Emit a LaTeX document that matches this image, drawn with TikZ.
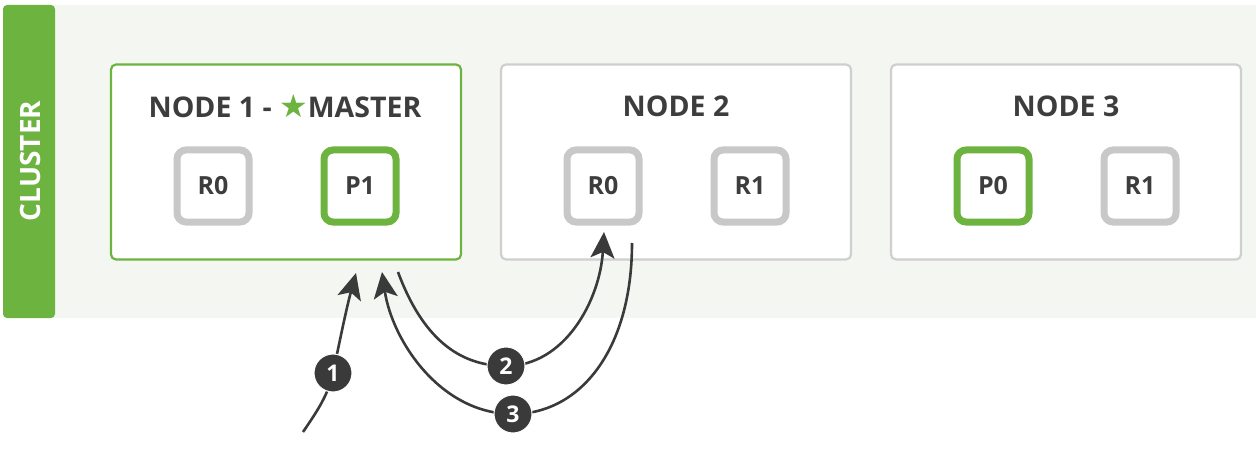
\documentclass[tikz,border=0pt]{standalone}
\usepackage{fontspec}
\setmainfont{Open Sans}
\newfontfamily\symfont{DejaVu Sans}
\usetikzlibrary{arrows.meta}
\definecolor{esgreen}{HTML}{6DB33F}
\definecolor{bggray}{HTML}{F4F6F2}
\definecolor{boxgray}{HTML}{CFCFCF}
\definecolor{shardgray}{HTML}{C8C8C8}
\definecolor{txt}{HTML}{3D3D3D}
\definecolor{arr}{HTML}{3A3A3A}
\tikzset{
  nodebox/.style={draw=boxgray, line width=2.2pt, rounded corners=5pt, fill=white, minimum width=350pt, minimum height=195pt},
  masterbox/.style={nodebox, draw=esgreen},
  title/.style={font=\bfseries\fontsize{28.5}{32}\selectfont, text=txt},
  replica/.style={draw=shardgray, line width=7pt, rounded corners=9pt, fill=white, minimum width=72pt, minimum height=72pt, font=\bfseries\fontsize{25}{28}\selectfont, text=txt},
  primary/.style={replica, draw=esgreen},
  flow/.style={draw=arr, line width=2.6pt, -{Stealth[length=26pt, width=24pt, inset=6pt]}},
  num/.style={circle, fill=arr, draw=white, line width=1pt, minimum size=38pt, inner sep=0pt, text=white, font=\bfseries\fontsize{23}{25}\selectfont},
}
\begin{document}
\begin{tikzpicture}[x=1pt, y=-1pt]
\useasboundingbox (0,0) rectangle (1256,468);
% cluster background
\fill[bggray] (40,5) rectangle (1256,318);
\fill[esgreen, rounded corners=4pt] (3,5) rectangle (55,318);
\node[rotate=90, text=white, font=\bfseries\fontsize{28}{32}\selectfont] (cl) at (30,161) {CLUSTER};
% nodes
\node[masterbox] (node1) at (286,162) {};
\node[nodebox] (node2) at (676,162) {};
\node[nodebox] (node3) at (1066,162) {};
\node[title] (t1) at (285,106) {NODE 1 - {\symfont\fontsize{32}{32}\selectfont\color{esgreen}★}MASTER};
\node[title] (t2) at (676,106) {NODE 2};
\node[title] (t3) at (1066,106) {NODE 3};
% shards
\node[replica] (n1r0) at (213,186) {R0};
\node[primary] (n1p1) at (360,186) {P1};
\node[replica] (n2r0) at (603,186) {R0};
\node[replica] (n2r1) at (750,186) {R1};
\node[primary] (n3p0) at (993,186) {P0};
\node[replica] (n3r1) at (1140,186) {R1};
% arrows
\coordinate (s1) at (303,432);
\coordinate (e1) at (356,273);
\coordinate (c1) at (333,373);
\coordinate (s2) at (398,272);
\coordinate (e2) at (604,232);
\coordinate (c2) at (506,366);
\coordinate (s3) at (632,243);
\coordinate (e3) at (382,272);
\coordinate (c3) at (513,414);
\draw[flow] (s1) .. controls (318,410) and (328,395) .. (c1) .. controls (340,340) and (346,310) .. (e1);
\draw[flow] (s2) .. controls (425,345) and (465,366) .. (c2) .. controls (565,366) and (600,300) .. (e2);
\draw[flow] (s3) .. controls (632,350) and (580,414) .. (c3) .. controls (440,414) and (392,340) .. (e3);
\node[num] (b1) at (c1) {1};
\node[num] (b2) at (c2) {2};
\node[num] (b3) at (c3) {3};
\end{tikzpicture}
\end{document}
